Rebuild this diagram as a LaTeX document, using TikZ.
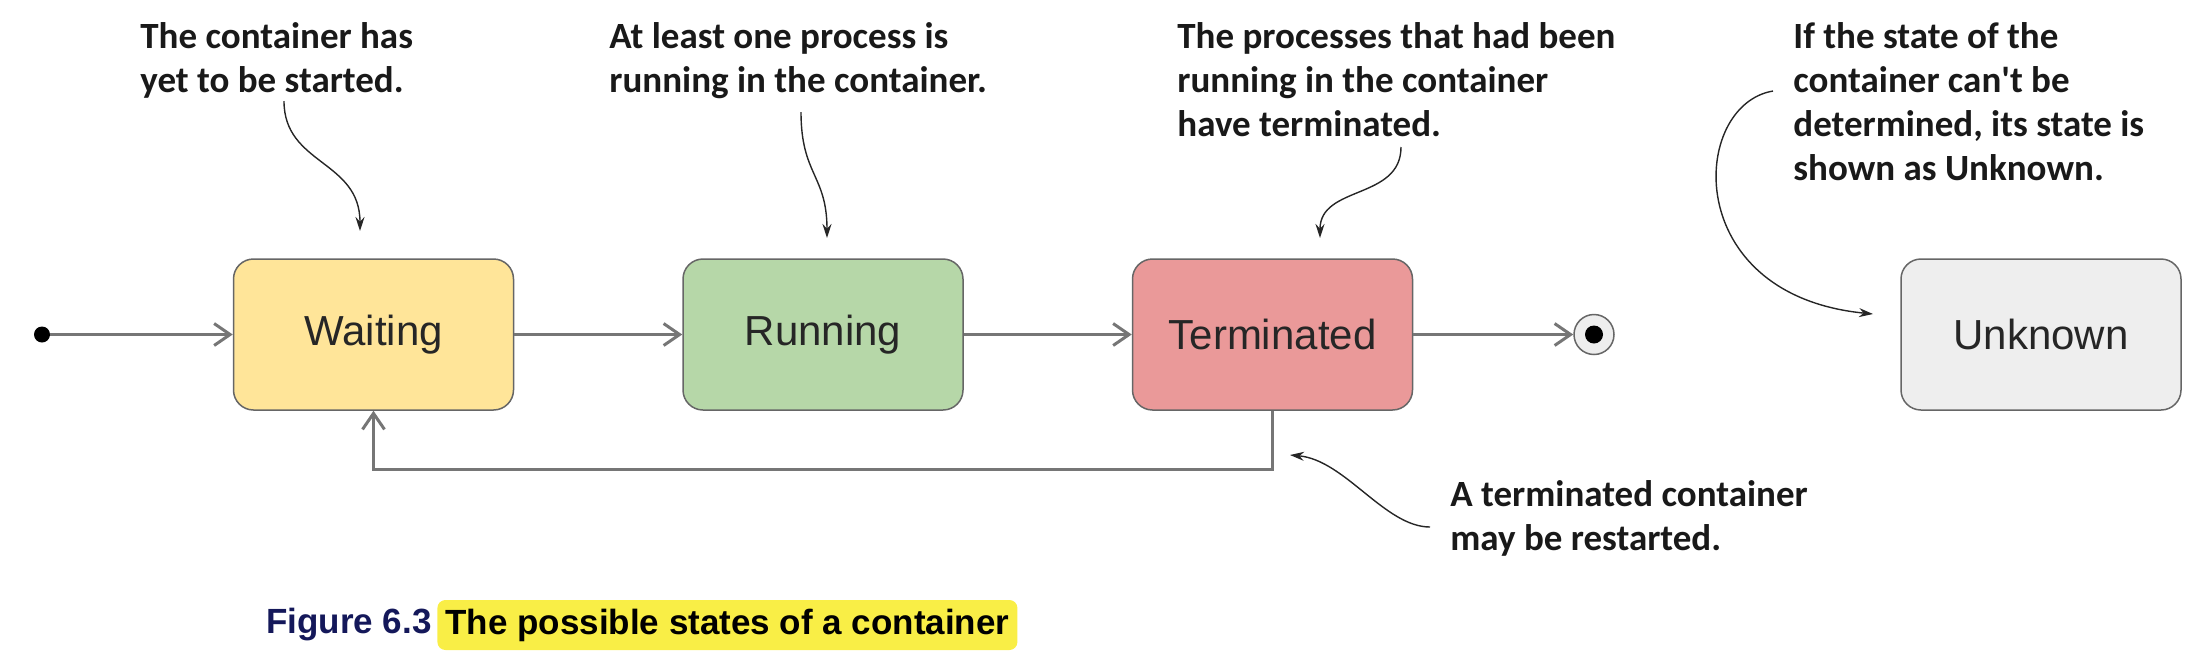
\documentclass[tikz,border=0pt]{standalone}
\usepackage{fontspec}
\setmainfont{Liberation Sans}
\newfontfamily\notefont{Carlito}
\usepackage{tikz}
\usetikzlibrary{
  arrows.meta,
  calc,
  positioning,
}
\definecolor{waityellow}{RGB}{255, 229, 153}
\definecolor{rungreen}{RGB}{182, 215, 168}
\definecolor{termred}{RGB}{234, 153, 153}
\definecolor{unkgray}{RGB}{238, 238, 238}
\definecolor{linegray}{RGB}{102, 102, 102}
\definecolor{flowgray}{RGB}{118, 118, 118}
\definecolor{capnavy}{RGB}{20, 24, 90}
\definecolor{hiyellow}{RGB}{249, 238, 70}
\tikzstyle{state} = [
  draw=linegray,
  rectangle,
  rounded corners=10pt,
  minimum width=140pt,
  minimum height=75.5pt,
  line width=0.75pt,
  font=\fontsize{21}{25}\selectfont,
  text=black!85,
]
\tikzstyle{arrow} = [
  -{Straight Barb[length=8pt,width=11pt]},
  line width=1.5pt,
  flowgray,
]
\tikzstyle{note} = [
  align=left,
  inner sep=0pt,
  anchor=north west,
  font=\notefont\bfseries\fontsize{18.5}{22}\selectfont,
  text=black!90,
]
\tikzstyle{pointer} = [
  -{Stealth[length=7pt,width=4.5pt]},
  line width=0.7pt,
  black!85,
]
\tikzstyle{caption} = [
  inner sep=0pt,
  font=\bfseries\fontsize{17.5}{21}\selectfont,
]
\begin{document}
\begin{tikzpicture}[x=0.5pt,y=-0.5pt,node distance=0pt and 84pt]
  \useasboundingbox (0,0) rectangle (2197,661);
  \node[state,fill=waityellow] (s0) at (373.5,334.5) {Waiting};
  \node[state,fill=rungreen]   (s1) [right=of s0] {Running};
  \node[state,fill=termred]    (s2) [right=of s1] {Terminated};
  \node[state,fill=unkgray]    (s3) [right=243.5pt of s2] {Unknown};

  \node[circle,fill=black,inner sep=0pt,minimum size=8pt] (i0) at (42,334.5) {};
  \node[circle,draw=linegray,fill=unkgray,line width=0.75pt,inner sep=0pt,minimum size=20pt] (f0) at (1594,334.5) {};
  \node[circle,fill=black,inner sep=0pt,minimum size=9pt] (f1) at (f0) {};

  \draw[arrow] (i0) -- (s0);
  \draw[arrow] (s0) -- (s1);
  \draw[arrow] (s1) -- (s2);
  \draw[arrow] (s2) -- (f0);
  \draw[arrow] (s2.south) -- ++(0,59) -| (s0.south);

  \node[note] (n0) at (140,22)  {The container has\\yet to be started.};
  \node[note] (n1) at (609,22)  {At least one process is\\running in the container.};
  \node[note] (n2) at (1177,22) {The processes that had been\\running in the container\\have terminated.};
  \node[note] (n3) at (1793,22) {If the state of the\\container can\textquotesingle t be\\determined, its state is\\shown as Unknown.};
  \node[note] (n4) at (1450,480) {A terminated container\\may be restarted.};

  \coordinate (p0) at (284,101);  \coordinate (q0) at (360,231);
  \coordinate (p1) at (801,112);  \coordinate (q1) at (827,238);
  \coordinate (p2) at (1401,147); \coordinate (q2) at (1320,238);
  \coordinate (p3) at (1773,91);  \coordinate (q3) at (1873,314);
  \coordinate (p4) at (1430,527); \coordinate (q4) at (1290,455);
  \draw[pointer] (p0) .. controls (284,165) and (360,160) .. (q0);
  \draw[pointer] (p1) .. controls (801,175) and (827,175) .. (q1);
  \draw[pointer] (p2) .. controls (1401,200) and (1320,185) .. (q2);
  \draw[pointer] (p3) .. controls (1690,105) and (1680,295) .. (q3);
  \draw[pointer] (p4) .. controls (1385,527) and (1345,460) .. (q4);

  \node[caption,anchor=east,text=capnavy] (c0) at (432,625) {Figure 6.3};
  \node[caption,fill=hiyellow,rounded corners=4pt,inner xsep=4pt,minimum height=25pt] (c1) [right=2.5pt of c0] {The possible states of a container};
\end{tikzpicture}
\end{document}
